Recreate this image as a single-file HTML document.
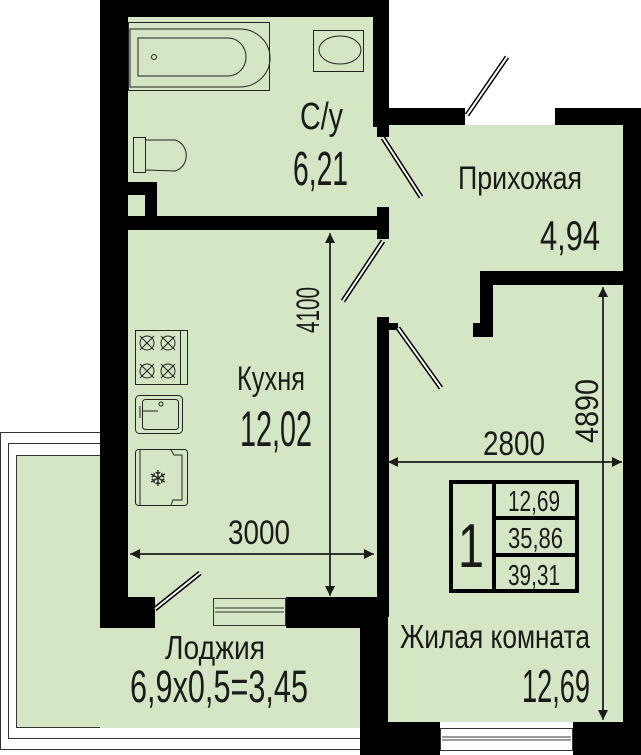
<!DOCTYPE html>
<html><head><meta charset="utf-8"><style>
html,body{margin:0;padding:0;background:#fff}
svg{display:block}
text{font-family:"Liberation Sans",sans-serif;fill:#1a1a1a}
</style></head><body>
<svg width="641" height="755" viewBox="0 0 641 755" xmlns="http://www.w3.org/2000/svg">
<defs>
<marker id="ar" viewBox="0 0 10 10" refX="10" refY="5" markerWidth="14" markerHeight="10" markerUnits="userSpaceOnUse" orient="auto"><path d="M0,0 L10,5 L0,10 z" fill="#1a1a1a"/></marker>
</defs>
<rect x="0.5" y="432.5" width="360" height="317" fill="#fff" stroke="#333" stroke-width="1"/>
<rect x="8.5" y="443.5" width="352" height="295" fill="#fff" stroke="#333" stroke-width="1"/>
<rect x="16.5" y="455.5" width="344" height="272" fill="#d4e6c4" stroke="#333" stroke-width="1"/>
<rect x="128" y="17" width="246" height="200" fill="#d4e6c4"/>
<rect x="128" y="125" width="495" height="165" fill="#d4e6c4"/>
<rect x="128" y="216" width="260" height="385" fill="#d4e6c4"/>
<rect x="388" y="280" width="235" height="442" fill="#d4e6c4"/>
<rect x="100" y="600" width="290" height="128" fill="#d4e6c4"/>
<g fill="#000">
<rect x="100" y="0" width="289" height="17"/>
<rect x="100" y="0" width="28" height="628"/>
<rect x="373" y="0" width="16" height="127"/>
<rect x="373" y="108" width="92" height="17"/>
<rect x="377" y="125" width="12" height="12"/>
<rect x="555" y="108" width="86" height="17"/>
<rect x="623" y="108" width="18" height="647"/>
<rect x="128" y="216" width="260" height="14"/>
<rect x="128" y="182" width="29" height="48"/>
<rect x="377" y="207" width="12" height="32"/>
<rect x="480" y="271" width="143" height="14"/>
<rect x="480" y="271" width="13" height="66"/>
<rect x="473" y="323" width="20" height="14"/>
<rect x="377" y="317" width="12" height="300"/>
<rect x="388" y="323" width="10" height="7"/>
<rect x="100" y="597" width="55" height="31"/>
<rect x="286" y="597" width="102" height="31"/>
<rect x="360" y="597" width="28" height="158"/>
<rect x="360" y="722" width="80" height="33"/>
<rect x="573" y="722" width="68" height="33"/>
</g>
<rect x="128" y="195" width="17" height="21" fill="#d4e6c4"/>
<g stroke="#333" stroke-width="1" fill="#fff">
<rect x="213.5" y="598.5" width="72" height="27" fill="#d4e6c4"/>
<line x1="215" y1="608" x2="284" y2="608"/><line x1="215" y1="612" x2="284" y2="612"/>
<rect x="440.5" y="728.5" width="132" height="22"/>
<line x1="442" y1="737" x2="571" y2="737"/><line x1="442" y1="740" x2="571" y2="740"/>
</g>
<g stroke="#000" stroke-width="5"><line x1="467" y1="115" x2="507" y2="57"/><line x1="383" y1="138" x2="421" y2="197"/><line x1="383" y1="241" x2="343" y2="301"/><line x1="398" y1="328" x2="441" y2="388"/><line x1="155" y1="609" x2="200" y2="573"/></g>
<g stroke="#fff" stroke-width="2"><line x1="467" y1="115" x2="507" y2="57"/><line x1="383" y1="138" x2="421" y2="197"/><line x1="383" y1="241" x2="343" y2="301"/><line x1="398" y1="328" x2="441" y2="388"/><line x1="155" y1="609" x2="200" y2="573"/></g>
<g fill="none" stroke="#222" stroke-width="1">
<rect x="128.5" y="22.5" width="141" height="68"/>
<path d="M130 29 H240 A30 29 0 0 1 240 87 H130 z"/>
<path d="M138 38 H228 A18 19 0 0 1 228 76 H138 z"/>
<circle cx="154" cy="57" r="2.5"/>
<rect x="313.5" y="30.5" width="50" height="41"/>
<ellipse cx="340" cy="50" rx="21" ry="14"/>
<rect x="133.5" y="137.5" width="12" height="35"/>
<path d="M146 140 H175 A15 16 0 0 1 175 171 L146 170"/>
<rect x="135.5" y="330.5" width="45" height="54"/><rect x="180.5" y="330.5" width="7" height="54"/>
<circle cx="147" cy="343" r="7"/><circle cx="168" cy="343" r="7"/><circle cx="147" cy="371" r="7"/><circle cx="168" cy="371" r="7"/>
<path d="M140 336 L154 350 M154 336 L140 350 M161 336 L175 350 M175 336 L161 350 M140 364 L154 378 M154 364 L140 378 M161 364 L175 378 M175 364 L161 378"/>
<rect x="135.5" y="395.5" width="47" height="38" rx="4"/>
<rect x="142.5" y="399.5" width="36" height="30" rx="3"/>
<path d="M142 411 H158 M140 406 V418"/><circle cx="161" cy="404" r="2"/>
<rect x="135.5" y="449.5" width="52" height="56" rx="3"/>
<path d="M140 450 V505 M171 450 L174 455 H182 V500 L173 500 L171 505"/>
<text x="158" y="486" font-size="22" text-anchor="middle" style="fill:#222;stroke:none">❄</text>
</g>
<g stroke="#1a1a1a" stroke-width="1.5" fill="none">
<line x1="330" y1="590" x2="330" y2="233" marker-end="url(#ar)"/>
<line x1="330" y1="240" x2="330" y2="596" marker-end="url(#ar)"/>
<line x1="370" y1="554" x2="130" y2="554" marker-end="url(#ar)"/>
<line x1="140" y1="554" x2="374" y2="554" marker-end="url(#ar)"/>
<line x1="610" y1="462" x2="388" y2="462" marker-end="url(#ar)"/>
<line x1="395" y1="462" x2="622" y2="462" marker-end="url(#ar)"/>
<line x1="603" y1="715" x2="603" y2="287" marker-end="url(#ar)"/>
<line x1="603" y1="295" x2="603" y2="720" marker-end="url(#ar)"/>
</g>
<g fill="none" stroke="#000" stroke-width="4">
<rect x="451" y="482" width="126" height="109"/>
<line x1="494" y1="482" x2="494" y2="591"/>
<line x1="494" y1="518" x2="577" y2="518"/>
<line x1="494" y1="555" x2="577" y2="555"/>
</g>
<text x="300" y="129" font-size="38" textLength="43" lengthAdjust="spacingAndGlyphs">С/у</text>
<text x="293" y="185" font-size="48" textLength="55" lengthAdjust="spacingAndGlyphs">6,21</text>
<text x="458" y="189" font-size="32" textLength="124" lengthAdjust="spacingAndGlyphs">Прихожая</text>
<text x="540" y="250" font-size="42" textLength="60" lengthAdjust="spacingAndGlyphs">4,94</text>
<text x="237" y="390" font-size="34" textLength="68" lengthAdjust="spacingAndGlyphs">Кухня</text>
<text x="240" y="446" font-size="50" textLength="72" lengthAdjust="spacingAndGlyphs">12,02</text>
<text x="228" y="544" font-size="34" textLength="62" lengthAdjust="spacingAndGlyphs">3000</text>
<text x="483" y="455" font-size="34" textLength="62" lengthAdjust="spacingAndGlyphs">2800</text>
<text transform="translate(319,333) rotate(-90)" font-size="32" textLength="46" lengthAdjust="spacingAndGlyphs">4100</text>
<text transform="translate(598,443) rotate(-90)" font-size="32" textLength="64" lengthAdjust="spacingAndGlyphs">4890</text>
<text x="458" y="567" font-size="62" textLength="26" lengthAdjust="spacingAndGlyphs">1</text>
<text x="508" y="511" font-size="29" textLength="52" lengthAdjust="spacingAndGlyphs">12,69</text>
<text x="508" y="548" font-size="29" textLength="55" lengthAdjust="spacingAndGlyphs">35,86</text>
<text x="508" y="585" font-size="29" textLength="52" lengthAdjust="spacingAndGlyphs">39,31</text>
<text x="165" y="659" font-size="33" textLength="100" lengthAdjust="spacingAndGlyphs">Лоджия</text>
<text x="130" y="702" font-size="45" textLength="178" lengthAdjust="spacingAndGlyphs">6,9x0,5=3,45</text>
<text x="400" y="648" font-size="33" textLength="190" lengthAdjust="spacingAndGlyphs">Жилая комната</text>
<text x="522" y="702" font-size="46" textLength="68" lengthAdjust="spacingAndGlyphs">12,69</text>
</svg>
</body></html>
